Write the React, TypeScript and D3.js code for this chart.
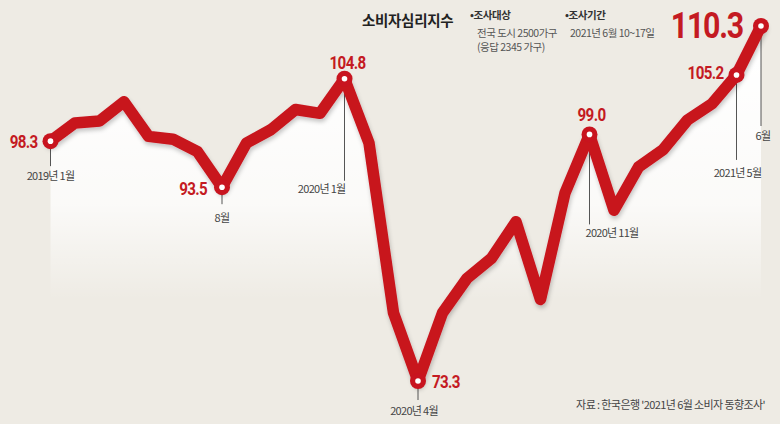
import React from 'react';
import * as d3 from 'd3';

// 소비자심리지수, 2019년 1월 ~ 2021년 6월
const months = [
  '2019-01', '2019-02', '2019-03', '2019-04', '2019-05', '2019-06',
  '2019-07', '2019-08', '2019-09', '2019-10', '2019-11', '2019-12',
  '2020-01', '2020-02', '2020-03', '2020-04', '2020-05', '2020-06',
  '2020-07', '2020-08', '2020-09', '2020-10', '2020-11', '2020-12',
  '2021-01', '2021-02', '2021-03', '2021-04', '2021-05', '2021-06',
];

const values = [
  98.3, 100.2, 100.4, 102.4, 98.8, 98.5, 97.2, 93.5, 98.1, 99.5, 101.6, 101.2,
  104.8, 98.1, 80.4, 73.3, 80.4, 84.0, 86.1, 89.9, 81.8, 92.9, 99.0, 91.1,
  95.6, 97.4, 100.5, 102.2, 105.2, 110.3,
];

// highlighted months and their date captions
const highlightMonths = ['2019-01', '2019-08', '2020-01', '2020-04', '2020-11', '2021-05', '2021-06'];
const dateLabels = ['2019년 1월', '8월', '2020년 1월', '2020년 4월', '2020년 11월', '2021년 5월', '6월'];

const title = '소비자심리지수';
const surveyTarget = ['•조사대상', '전국 도시 2500가구', '(응답 2345 가구)'];
const surveyPeriod = ['•조사기간', '2021년 6월 10~17일'];
const source = "자료 : 한국은행 '2021년 6월 소비자 동향조사'";

const W = 780;
const H = 424;
const RED = '#c8141f';
const LABEL_RED = '#c41a22';
const KR = '"Noto Sans CJK KR", "Noto Sans", sans-serif';
const NUM = 'Roboto, "Liberation Sans", sans-serif';

// label placement, relative to the marker
type Place = {
  vx: number; vy: number; vAnchor: string; big?: boolean;
  lineTo: number; tx: number; ty: number; tAnchor: string;
};
const places: Place[] = [
  { vx: -13, vy: 7, vAnchor: 'end', lineTo: 25, tx: 0, ty: 39, tAnchor: 'middle' },
  { vx: -15, vy: 8, vAnchor: 'end', lineTo: 17, tx: 0, ty: 35, tAnchor: 'middle' },
  { vx: 3, vy: -10, vAnchor: 'middle', lineTo: 102, tx: 1, ty: 114, tAnchor: 'end' },
  { vx: 14, vy: 7, vAnchor: 'start', lineTo: 19, tx: -4, ty: 34, tAnchor: 'middle' },
  { vx: 2, vy: -13, vAnchor: 'middle', lineTo: 90, tx: -4, ty: 103, tAnchor: 'start' },
  { vx: -13, vy: 4, vAnchor: 'end', lineTo: 85, tx: 1, ty: 102, tAnchor: 'middle' },
  { vx: -18, vy: 12, vAnchor: 'end', big: true, lineTo: 100, tx: 2, ty: 114, tAnchor: 'middle' },
];

const App: React.FC = () => {
  const x = d3.scalePoint<string>().domain(months).range([50.5, 761]);
  const y = d3.scaleLinear().domain([73.3, 110.3]).range([381, 26]);

  const data = months.map((m, i) => ({ m, v: values[i] }));

  const line = d3.line<{ m: string; v: number }>()
    .x(d => x(d.m) as number)
    .y(d => y(d.v));

  const area = d3.area<{ m: string; v: number }>()
    .x(d => x(d.m) as number)
    .y0(300)
    .y1(d => y(d.v));

  return (
    <svg width={W} height={H} style={{ position: 'absolute', left: 0, top: 0, display: 'block' }}>
      <defs>
        <linearGradient id="under" gradientUnits="userSpaceOnUse" x1="0" y1="60" x2="0" y2="300">
          <stop offset="0" stopColor="#ffffff" stopOpacity={1} />
          <stop offset="0.6" stopColor="#ffffff" stopOpacity={0.75} />
          <stop offset="1" stopColor="#ffffff" stopOpacity={0} />
        </linearGradient>
        <filter id="shadow" x="-10%" y="-10%" width="120%" height="130%">
          <feDropShadow dx="1" dy="3" stdDeviation="2" floodColor="#000" floodOpacity="0.22" />
        </filter>
      </defs>

      <rect width={W} height={H} fill="#eeebe4" />
      <path d={area(data) ?? ''} fill="url(#under)" />

      {/* leader lines */}
      {highlightMonths.map((m, i) => {
        const px = x(m) as number;
        const py = y(values[months.indexOf(m)]);
        return (
          <line key={'l' + m} x1={px} x2={px} y1={py} y2={py + places[i].lineTo}
            stroke="#555" strokeWidth={1} />
        );
      })}

      <path d={line(data) ?? ''} fill="none" stroke={RED} strokeWidth={11.5}
        strokeLinejoin="round" strokeLinecap="round" filter="url(#shadow)" />

      {highlightMonths.map((m, i) => {
        const px = x(m) as number;
        const py = y(values[months.indexOf(m)]);
        const p = places[i];
        const v = values[months.indexOf(m)];
        return (
          <g key={'h' + m}>
            <circle cx={px} cy={py} r={8} fill={RED} />
            <circle cx={px} cy={py} r={2.8} fill="#fff" />
            <g transform={`translate(${px + p.vx},${py + p.vy}) scale(0.82,1)`}>
              <text textAnchor={p.vAnchor} fontFamily={NUM} fontWeight={700}
                fontSize={p.big ? 37 : 18.5} letterSpacing={p.big ? -1.5 : -0.8}
                fill={LABEL_RED}>
                {v.toFixed(1)}
              </text>
            </g>
            <text x={px + p.tx} y={py + p.ty} textAnchor={p.tAnchor} fontFamily={KR}
              fontSize={11} letterSpacing={-0.7} fill="#444">
              {dateLabels[i]}
            </text>
          </g>
        );
      })}

      {/* title and survey notes */}
      <text x={362} y={26} fontFamily={KR} fontWeight={700} fontSize={14.5} letterSpacing={-0.3} fill="#222">{title}</text>
      <text x={470} y={19} fontFamily={KR} fontWeight={700} fontSize={10.5} letterSpacing={-0.4} fill="#333">{surveyTarget[0]}</text>
      <text x={477} y={37} fontFamily={KR} fontSize={10.5} letterSpacing={-0.5} fill="#555">{surveyTarget[1]}</text>
      <text x={477} y={51} fontFamily={KR} fontSize={10.5} letterSpacing={-0.5} fill="#555">{surveyTarget[2]}</text>
      <text x={565} y={19} fontFamily={KR} fontWeight={700} fontSize={10.5} letterSpacing={-0.4} fill="#333">{surveyPeriod[0]}</text>
      <text x={570} y={37} fontFamily={KR} fontSize={10.5} letterSpacing={-0.5} fill="#555">{surveyPeriod[1]}</text>

      <text x={765} y={409} textAnchor="end" fontFamily={KR} fontSize={11} letterSpacing={-0.6} fill="#444">{source}</text>
    </svg>
  );
};

export default App;
